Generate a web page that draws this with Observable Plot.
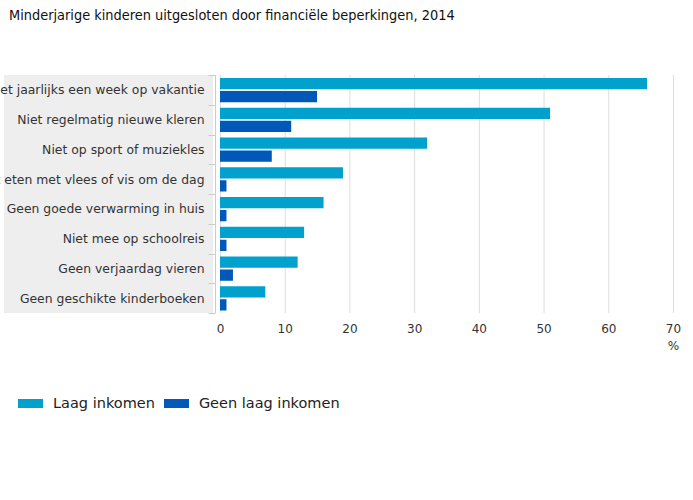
<!DOCTYPE html>
<html>
<head>
<meta charset="utf-8">
<script src="https://cdn.jsdelivr.net/npm/d3@7"></script>
<script src="https://cdn.jsdelivr.net/npm/@observablehq/plot@0.6"></script>
<style>
  html, body { margin: 0; padding: 0; background: #fff; }
  #wrap { position: relative; width: 693px; height: 500px; overflow: hidden; }
  #title { position: absolute; left: 9px; top: 7px; font-family: "DejaVu Sans Condensed", "DejaVu Sans", sans-serif; font-stretch: condensed; font-size: 14.4px; color: #111; white-space: nowrap; }
  #chart { position: absolute; left: 0; top: 40px; }
  #legend { position: absolute; left: 18px; top: 395px; display: flex; align-items: center; font-family: "DejaVu Sans", sans-serif; font-size: 14.5px; color: #222; white-space: nowrap; }
  #legend .item { display: flex; align-items: center; margin-right: 9px; }
  #legend .sw { width: 25px; height: 9px; margin-right: 10px; }
</style>
</head>
<body>
<div id="wrap">
  <div id="title"></div>
  <div id="chart"></div>
  <div id="legend"></div>
</div>
<script>
const titleText = "Minderjarige kinderen uitgesloten door financiële beperkingen, 2014";
const categories = [
  "Niet jaarlijks een week op vakantie",
  "Niet regelmatig nieuwe kleren",
  "Niet op sport of muziekles",
  "Niet eten met vlees of vis om de dag",
  "Geen goede verwarming in huis",
  "Niet mee op schoolreis",
  "Geen verjaardag vieren",
  "Geen geschikte kinderboeken"
];
const series = ["Laag inkomen", "Geen laag inkomen"];
const laagInkomen = [66, 51, 32, 19, 16, 13, 12, 7];
const geenLaagInkomen = [15, 11, 8, 1, 1, 1, 2, 1];
const xTicks = [0, 10, 20, 30, 40, 50, 60, 70];
const unitLabel = "%";
const colors = ["#00a1cd", "#0058b8"];

const laagData = categories.map((c, i) => ({cat: c, s: series[0], v: laagInkomen[i]}));
const geenData = categories.map((c, i) => ({cat: c, s: series[1], v: geenLaagInkomen[i]}));

document.getElementById("title").textContent = titleText;

// label panel drawn from the y scale's bands
function panel(index, scales, values, dims) {
  const g = d3.create("svg:g");
  const y = scales.y;
  const bw = y.bandwidth();
  const top = y(categories[0]);
  const bottom = y(categories[categories.length - 1]) + bw;
  const axisX = dims.marginLeft - 4.5;
  g.append("rect")
    .attr("x", 4).attr("y", top)
    .attr("width", axisX - 6.5).attr("height", bottom - top)
    .attr("fill", "#eeeeee");
  g.append("line")
    .attr("x1", axisX).attr("x2", axisX)
    .attr("y1", top).attr("y2", bottom)
    .attr("stroke", "#cccccc");
  const bounds = categories.map(c => y(c)).concat([bottom]);
  for (const b of bounds) {
    g.append("line")
      .attr("x1", axisX - 7).attr("x2", axisX)
      .attr("y1", Math.round(b) + 0.5).attr("y2", Math.round(b) + 0.5)
      .attr("stroke", "#cccccc");
  }
  return g.node();
}

const chart = Plot.plot({
  width: 693,
  height: 320,
  marginTop: 35,
  marginLeft: 220,
  marginRight: 20,
  marginBottom: 47,
  style: {fontFamily: "DejaVu Sans, sans-serif", fontSize: "12px", color: "#333", background: "transparent"},
  x: {domain: [xTicks[0], xTicks[xTicks.length - 1]], label: null},
  y: {domain: categories, padding: 0, round: false, label: null},
  color: {domain: series, range: colors},
  marks: [
    panel,
    Plot.gridX(xTicks, {stroke: "#dddddd", strokeOpacity: 1}),
    Plot.axisX(xTicks, {tickSize: 0, tickPadding: 11, label: null, fontSize: 12}),
    Plot.axisY({tickSize: 0, tickPadding: 16, label: null, fontSize: 12.4}),
    Plot.barX(laagData, {x: "v", y: "cat", fill: "s", insetTop: 3, insetBottom: 15.5}),
    Plot.barX(geenData, {x: "v", y: "cat", fill: "s", insetTop: 16, insetBottom: 2.5}),
    Plot.text([xTicks[xTicks.length - 1]], {x: d => d, text: () => unitLabel, frameAnchor: "bottom", dy: 36, fontSize: 12, fill: "#333"})
  ]
});
document.getElementById("chart").appendChild(chart);

const legend = d3.select("#legend");
series.forEach((s, i) => {
  const it = legend.append("div").attr("class", "item");
  it.append("div").attr("class", "sw").style("background", colors[i]);
  it.append("span").text(s);
});
</script>
</body>
</html>
